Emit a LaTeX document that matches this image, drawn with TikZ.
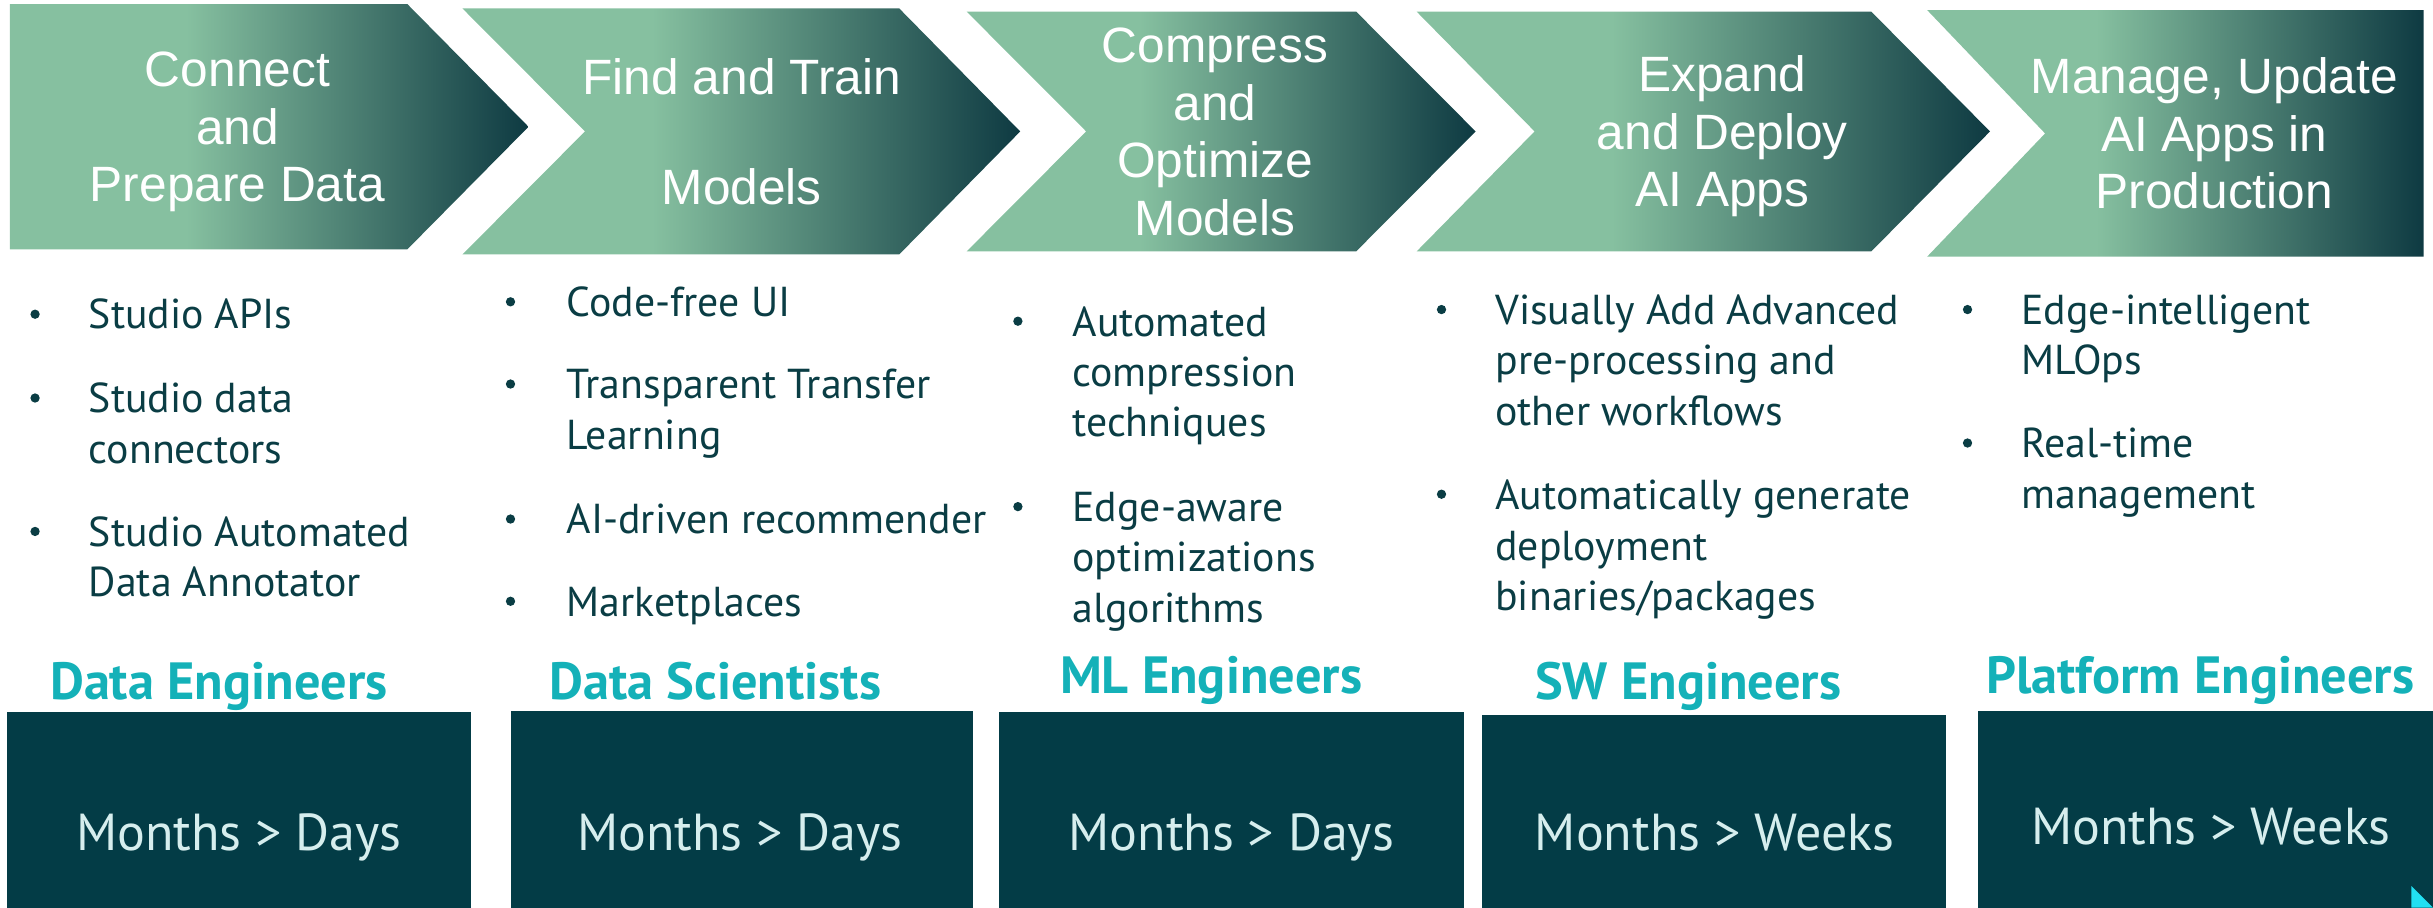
\documentclass[tikz,border=0pt]{standalone}
\usepackage{fontspec}
\setmainfont{PT Sans}
\newfontfamily\titlefont{Liberation Sans}

\definecolor{chevlight}{HTML}{86C0A0}
\definecolor{chevdark}{HTML}{0E3A42}
\definecolor{boxfill}{HTML}{033C46}
\definecolor{roleteal}{HTML}{14B1B8}
\definecolor{itemtext}{HTML}{0A3D44}
\definecolor{monthstext}{HTML}{D6EEEE}
\definecolor{cornercyan}{HTML}{22E0F2}

\pgfdeclarehorizontalshading{chevshade}{100bp}{color(0bp)=(chevlight); color(25bp)=(chevlight); color(42bp)=(chevlight); color(75bp)=(chevdark); color(100bp)=(chevdark)}

\begin{document}
\begin{tikzpicture}[x=0.03cm, y=-0.03cm,
		chev/.style={shading=chevshade},
		title/.style={text=white, align=center, inner sep=0pt, font=\titlefont\fontsize{27.3pt}{31.6pt}\selectfont},
		item/.style={anchor=base west, align=left, inner sep=0pt, text=itemtext, font=\fontsize{23pt}{27.7pt}\selectfont},
		dot/.style={circle, fill=itemtext, inner sep=0pt, minimum size=0.18cm},
		role/.style={anchor=base, inner sep=0pt, text=roleteal, font=\bfseries\fontsize{28.8pt}{34pt}\selectfont},
		months/.style={anchor=base, inner sep=0pt, text=monthstext, font=\fontsize{28.6pt}{34pt}\selectfont}]
		\useasboundingbox (0,0) rectangle (1568,585);

		% the five steps
		\shade[chev] (6.4,2.6) -- (262.5,2.6) -- (340.6,81.7) -- (262.5,160.7) -- (6.4,160.7) -- cycle;
		\shade[chev] (298,5.4) -- (579.5,5.4) -- (657.5,84.7) -- (579.5,164) -- (298,164) -- (377,84.7) -- cycle;
		\shade[chev] (623,7.5) -- (874,7.5) -- (951,84.7) -- (874,162) -- (623,162) -- (700,84.7) -- cycle;
		\shade[chev] (913,7.5) -- (1206,7.5) -- (1282.5,84.7) -- (1206,162) -- (913,162) -- (989,84.7) -- cycle;
		\shade[chev] (1242,6.5) -- (1562,6.5) -- (1562,165.4) -- (1242,165.4) -- (1318,86) -- cycle;

		\node [title] (T1) at (153,85) {Connect\\and\\Prepare Data};
		\node [title] (T2) at (478,85) {Find and Train\\[29pt]Models};
		\node [title] (T3) at (783,85) {Compress\\and\\Optimize\\Models};
		\node [title] (T4) at (1110,88) {Expand\\and Deploy\\AI Apps};
		\node [title] (T5) at (1427,86) {Manage, Update\\AI Apps in\\Production};

		% bullet lists (base = last line)
		\node [dot] (D11) at (22.6,202.5) {};
		\node [item] (I11) at (57,212) {Studio APIs};
		\node [dot] (D12) at (22.6,256.5) {};
		\node [item] (I12) at (57,298.5) {Studio data\\connectors};
		\node [dot] (D13) at (22.6,342.5) {};
		\node [item] (I13) at (57,384.5) {Studio Automated\\Data Annotator};

		\node [dot] (D21) at (329,194.5) {};
		\node [item] (I21) at (365,204) {Code-free UI};
		\node [dot] (D22) at (329,247.5) {};
		\node [item] (I22) at (365,289.5) {Transparent Transfer\\Learning};
		\node [dot] (D23) at (329,334.5) {};
		\node [item] (I23) at (365,344) {AI-driven recommender};
		\node [dot] (D24) at (329,387.5) {};
		\node [item] (I24) at (365,397) {Marketplaces};

		\node [dot] (D31) at (656,207) {};
		\node [item] (I31) at (691,281.5) {Automated\\compression\\techniques};
		\node [dot] (D32) at (656,326.5) {};
		\node [item] (I32) at (691,401) {Edge-aware\\optimizations\\algorithms};

		\node [dot] (D41) at (929,199.5) {};
		\node [item] (I41) at (963.5,274) {Visually Add Advanced\\pre-processing and\\other workflows};
		\node [dot] (D42) at (929,318.5) {};
		\node [item] (I42) at (963.5,393.5) {Automatically generate\\deployment\\binaries/packages};

		\node [dot] (D51) at (1268,199.5) {};
		\node [item] (I51) at (1302.5,241.5) {Edge-intelligent\\MLOps};
		\node [dot] (D52) at (1268,285.5) {};
		\node [item] (I52) at (1302.5,327.5) {Real-time\\management};

		% roles
		\node [role] (R1) at (141,451) {Data Engineers};
		\node [role] (R2) at (461,450.5) {Data Scientists};
		\node [role] (R3) at (780.5,447) {ML Engineers};
		\node [role] (R4) at (1088,450.5) {SW Engineers};
		\node [role] (R5) at (1418,447) {Platform Engineers};

		% time boxes
		\fill [boxfill] (4.3,459) rectangle (303.5,585);
		\fill [boxfill] (329,458) rectangle (627,585);
		\fill [boxfill] (644,459) rectangle (943.5,585);
		\fill [boxfill] (955,461) rectangle (1254,585);
		\fill [boxfill] (1275,458) rectangle (1568,585);
		\fill [cornercyan] (1554,571) -- (1554,585) -- (1568,585) -- cycle;

		\node [months] (M1) at (154,548) {Months > Days};
		\node [months] (M2) at (477,548) {Months > Days};
		\node [months] (M3) at (793.5,548) {Months > Days};
		\node [months] (M4) at (1105,548) {Months > Weeks};
		\node [months] (M5) at (1425,544) {Months > Weeks};
	\end{tikzpicture}
\end{document}
